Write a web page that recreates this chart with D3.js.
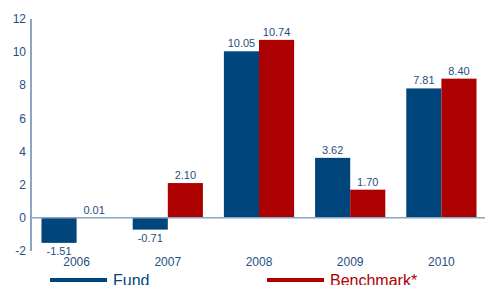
<!DOCTYPE html>
<html>
<head>
<meta charset="utf-8">
<script src="https://cdn.jsdelivr.net/npm/d3@7.9.0/dist/d3.min.js"></script>
<style>
  body { margin: 0; background: #fff; }
  svg { display: block; font-family: "Liberation Sans", Arial, sans-serif; }
</style>
</head>
<body>
<svg id="chart" width="485" height="285"></svg>
<script>
// Data
const years     = ['2006', '2007', '2008', '2009', '2010'];
const fund      = [-1.51, -0.71, 10.05, 3.62, 7.81];
const benchmark = [0.01, 2.10, 10.74, 1.70, 8.40];
const yTicks    = [-2, 0, 2, 4, 6, 8, 10, 12];
const seriesNames = ['Fund', 'Benchmark*'];

const colors    = ['#00467c', '#ad0000'];
const textColor = '#1f4f7f';
const axisColor = '#8aa6c1';

const svg = d3.select('#chart');

const x = d3.scaleBand().domain(years).range([31, 487]).paddingInner(0.23).paddingOuter(0.115);
const xs = d3.scaleBand().domain([0, 1]).range([0, x.bandwidth()]);
const y = d3.scaleLinear().domain([-2, 12]).range([251, 19]);

// y axis line + tick labels
svg.append('line')
  .attr('x1', 31).attr('x2', 31)
  .attr('y1', y(12)).attr('y2', y(-2))
  .attr('stroke', axisColor).attr('stroke-width', 2);

svg.selectAll('.ytick')
  .data(yTicks)
  .join('text')
  .attr('class', 'ytick')
  .attr('x', 26)
  .attr('y', d => y(d))
  .attr('dy', '0.35em')
  .attr('text-anchor', 'end')
  .attr('font-size', 12)
  .attr('fill', textColor)
  .text(d => d);

// bars
const series = [fund, benchmark];
series.forEach((vals, s) => {
  svg.selectAll('.bar' + s)
    .data(vals)
    .join('rect')
    .attr('class', 'bar' + s)
    .attr('x', (d, i) => x(years[i]) + xs(s))
    .attr('width', xs.bandwidth())
    .attr('y', d => y(Math.max(0, d)))
    .attr('height', d => Math.abs(y(d) - y(0)))
    .attr('fill', colors[s]);

  svg.selectAll('.val' + s)
    .data(vals)
    .join('text')
    .attr('class', 'val' + s)
    .attr('x', (d, i) => x(years[i]) + xs(s) + xs.bandwidth() / 2)
    .attr('y', d => d >= 0 ? y(d) - 4 : y(d) + 12)
    .attr('text-anchor', 'middle')
    .attr('font-size', 11)
    .attr('fill', textColor)
    .text(d => d.toFixed(2));
});

// zero line
svg.append('line')
  .attr('x1', 31).attr('x2', 485)
  .attr('y1', y(0)).attr('y2', y(0))
  .attr('stroke', axisColor).attr('stroke-width', 1.5);

// year labels
svg.selectAll('.year')
  .data(years)
  .join('text')
  .attr('class', 'year')
  .attr('x', d => x(d) + x.bandwidth() / 2)
  .attr('y', 266)
  .attr('text-anchor', 'middle')
  .attr('font-size', 12)
  .attr('fill', textColor)
  .text(d => d);

// legend
const legendX = [50, 267];
seriesNames.forEach((name, s) => {
  svg.append('line')
    .attr('x1', legendX[s]).attr('x2', legendX[s] + 57)
    .attr('y1', 280).attr('y2', 280)
    .attr('stroke', colors[s]).attr('stroke-width', 4);
  svg.append('text')
    .attr('x', legendX[s] + 63)
    .attr('y', 286)
    .attr('font-size', 16)
    .attr('fill', colors[s])
    .text(name);
});
</script>
</body>
</html>
